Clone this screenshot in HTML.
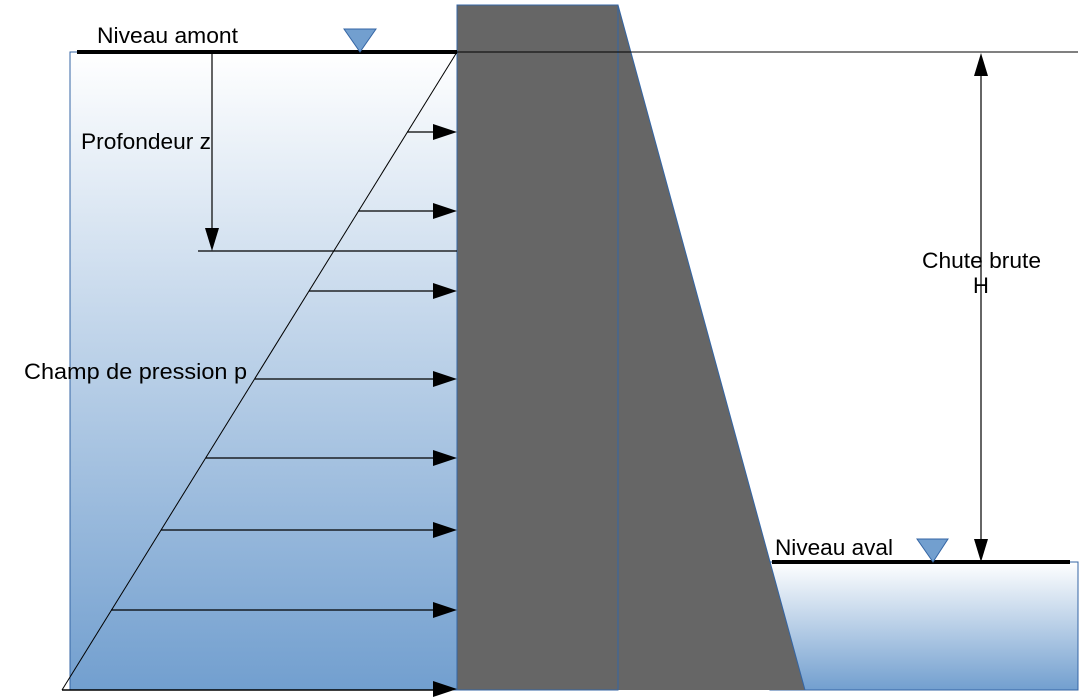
<!DOCTYPE html>
<html><head><meta charset="utf-8"><style>
html,body{margin:0;padding:0;background:#fff;width:1080px;height:698px;overflow:hidden}
text{font-family:"Liberation Sans",sans-serif;font-size:22px;fill:#000}
</style></head><body>
<svg width="1080" height="698" viewBox="0 0 1080 698" xmlns="http://www.w3.org/2000/svg">
<defs>
<linearGradient id="g1" x1="0" y1="0" x2="0" y2="1"><stop offset="0" stop-color="#ffffff"/><stop offset="1" stop-color="#729fcf"/></linearGradient>
<linearGradient id="g2" x1="0" y1="0" x2="0" y2="1"><stop offset="0" stop-color="#ffffff"/><stop offset="1" stop-color="#729fcf"/></linearGradient>
</defs>
<rect x="70" y="52" width="387" height="638" fill="url(#g1)" stroke="#3465a4" stroke-width="1"/>
<rect x="770" y="562" width="308" height="128" fill="url(#g2)" stroke="#3465a4" stroke-width="1"/>
<rect x="457" y="5" width="161" height="685" fill="#666" stroke="#3465a4" stroke-width="1"/>
<polygon points="618,5 805,690 618,690" fill="#666"/>
<line x1="618" y1="5" x2="805" y2="690" stroke="#3465a4" stroke-width="1"/>
<line x1="618" y1="5" x2="618" y2="690" stroke="#3465a4" stroke-width="1"/>
<line x1="77" y1="52" x2="457" y2="52" stroke="#000" stroke-width="4"/>
<line x1="457" y1="52" x2="1078" y2="52" stroke="#000" stroke-width="1"/>
<polygon points="344,29 376,29 360,52" fill="#729fcf" stroke="#3465a4" stroke-width="1"/>
<line x1="772" y1="562" x2="1070" y2="562" stroke="#000" stroke-width="4"/>
<polygon points="917,539 948,539 933,562" fill="#729fcf" stroke="#3465a4" stroke-width="1"/>
<line x1="457" y1="52" x2="62" y2="690" stroke="#000" stroke-width="1"/>
<line x1="62" y1="690" x2="434" y2="690" stroke="#000" stroke-width="1.5"/>
<g stroke="#000" stroke-width="1.2">
<line x1="407" y1="132" x2="434" y2="132"/>
<line x1="358" y1="211" x2="434" y2="211"/>
<line x1="309" y1="291" x2="434" y2="291"/>
<line x1="255" y1="379" x2="434" y2="379"/>
<line x1="206" y1="458" x2="434" y2="458"/>
<line x1="161" y1="530" x2="434" y2="530"/>
<line x1="111" y1="610" x2="434" y2="610"/>
<line x1="198" y1="251" x2="457" y2="251"/>
<line x1="212" y1="52" x2="212" y2="230"/>
<line x1="981" y1="75" x2="981" y2="540"/>
</g>
<g fill="#000">
<polygon points="433,124 457,132 433,140"/>
<polygon points="433,203 457,211 433,219"/>
<polygon points="433,283 457,291 433,299"/>
<polygon points="433,371 457,379 433,387"/>
<polygon points="433,450 457,458 433,466"/>
<polygon points="433,522 457,530 433,538"/>
<polygon points="433,602 457,610 433,618"/>
<polygon points="433,681 457,689 433,697"/>
<polygon points="205,228 219,228 212,251"/>
<polygon points="974,76 988,76 981,53"/>
<polygon points="974,539 988,539 981,562"/>
</g>
<text x="97" y="43" textLength="141" lengthAdjust="spacingAndGlyphs">Niveau amont</text>
<text x="81" y="149" textLength="130" lengthAdjust="spacingAndGlyphs">Profondeur z</text>
<text x="24" y="379" textLength="223" lengthAdjust="spacingAndGlyphs">Champ de pression  p</text>
<text x="922" y="268" textLength="119" lengthAdjust="spacingAndGlyphs">Chute brute</text>
<text x="973" y="293">H</text>
<text x="775" y="555" textLength="118" lengthAdjust="spacingAndGlyphs">Niveau aval</text>
</svg>
</body></html>
